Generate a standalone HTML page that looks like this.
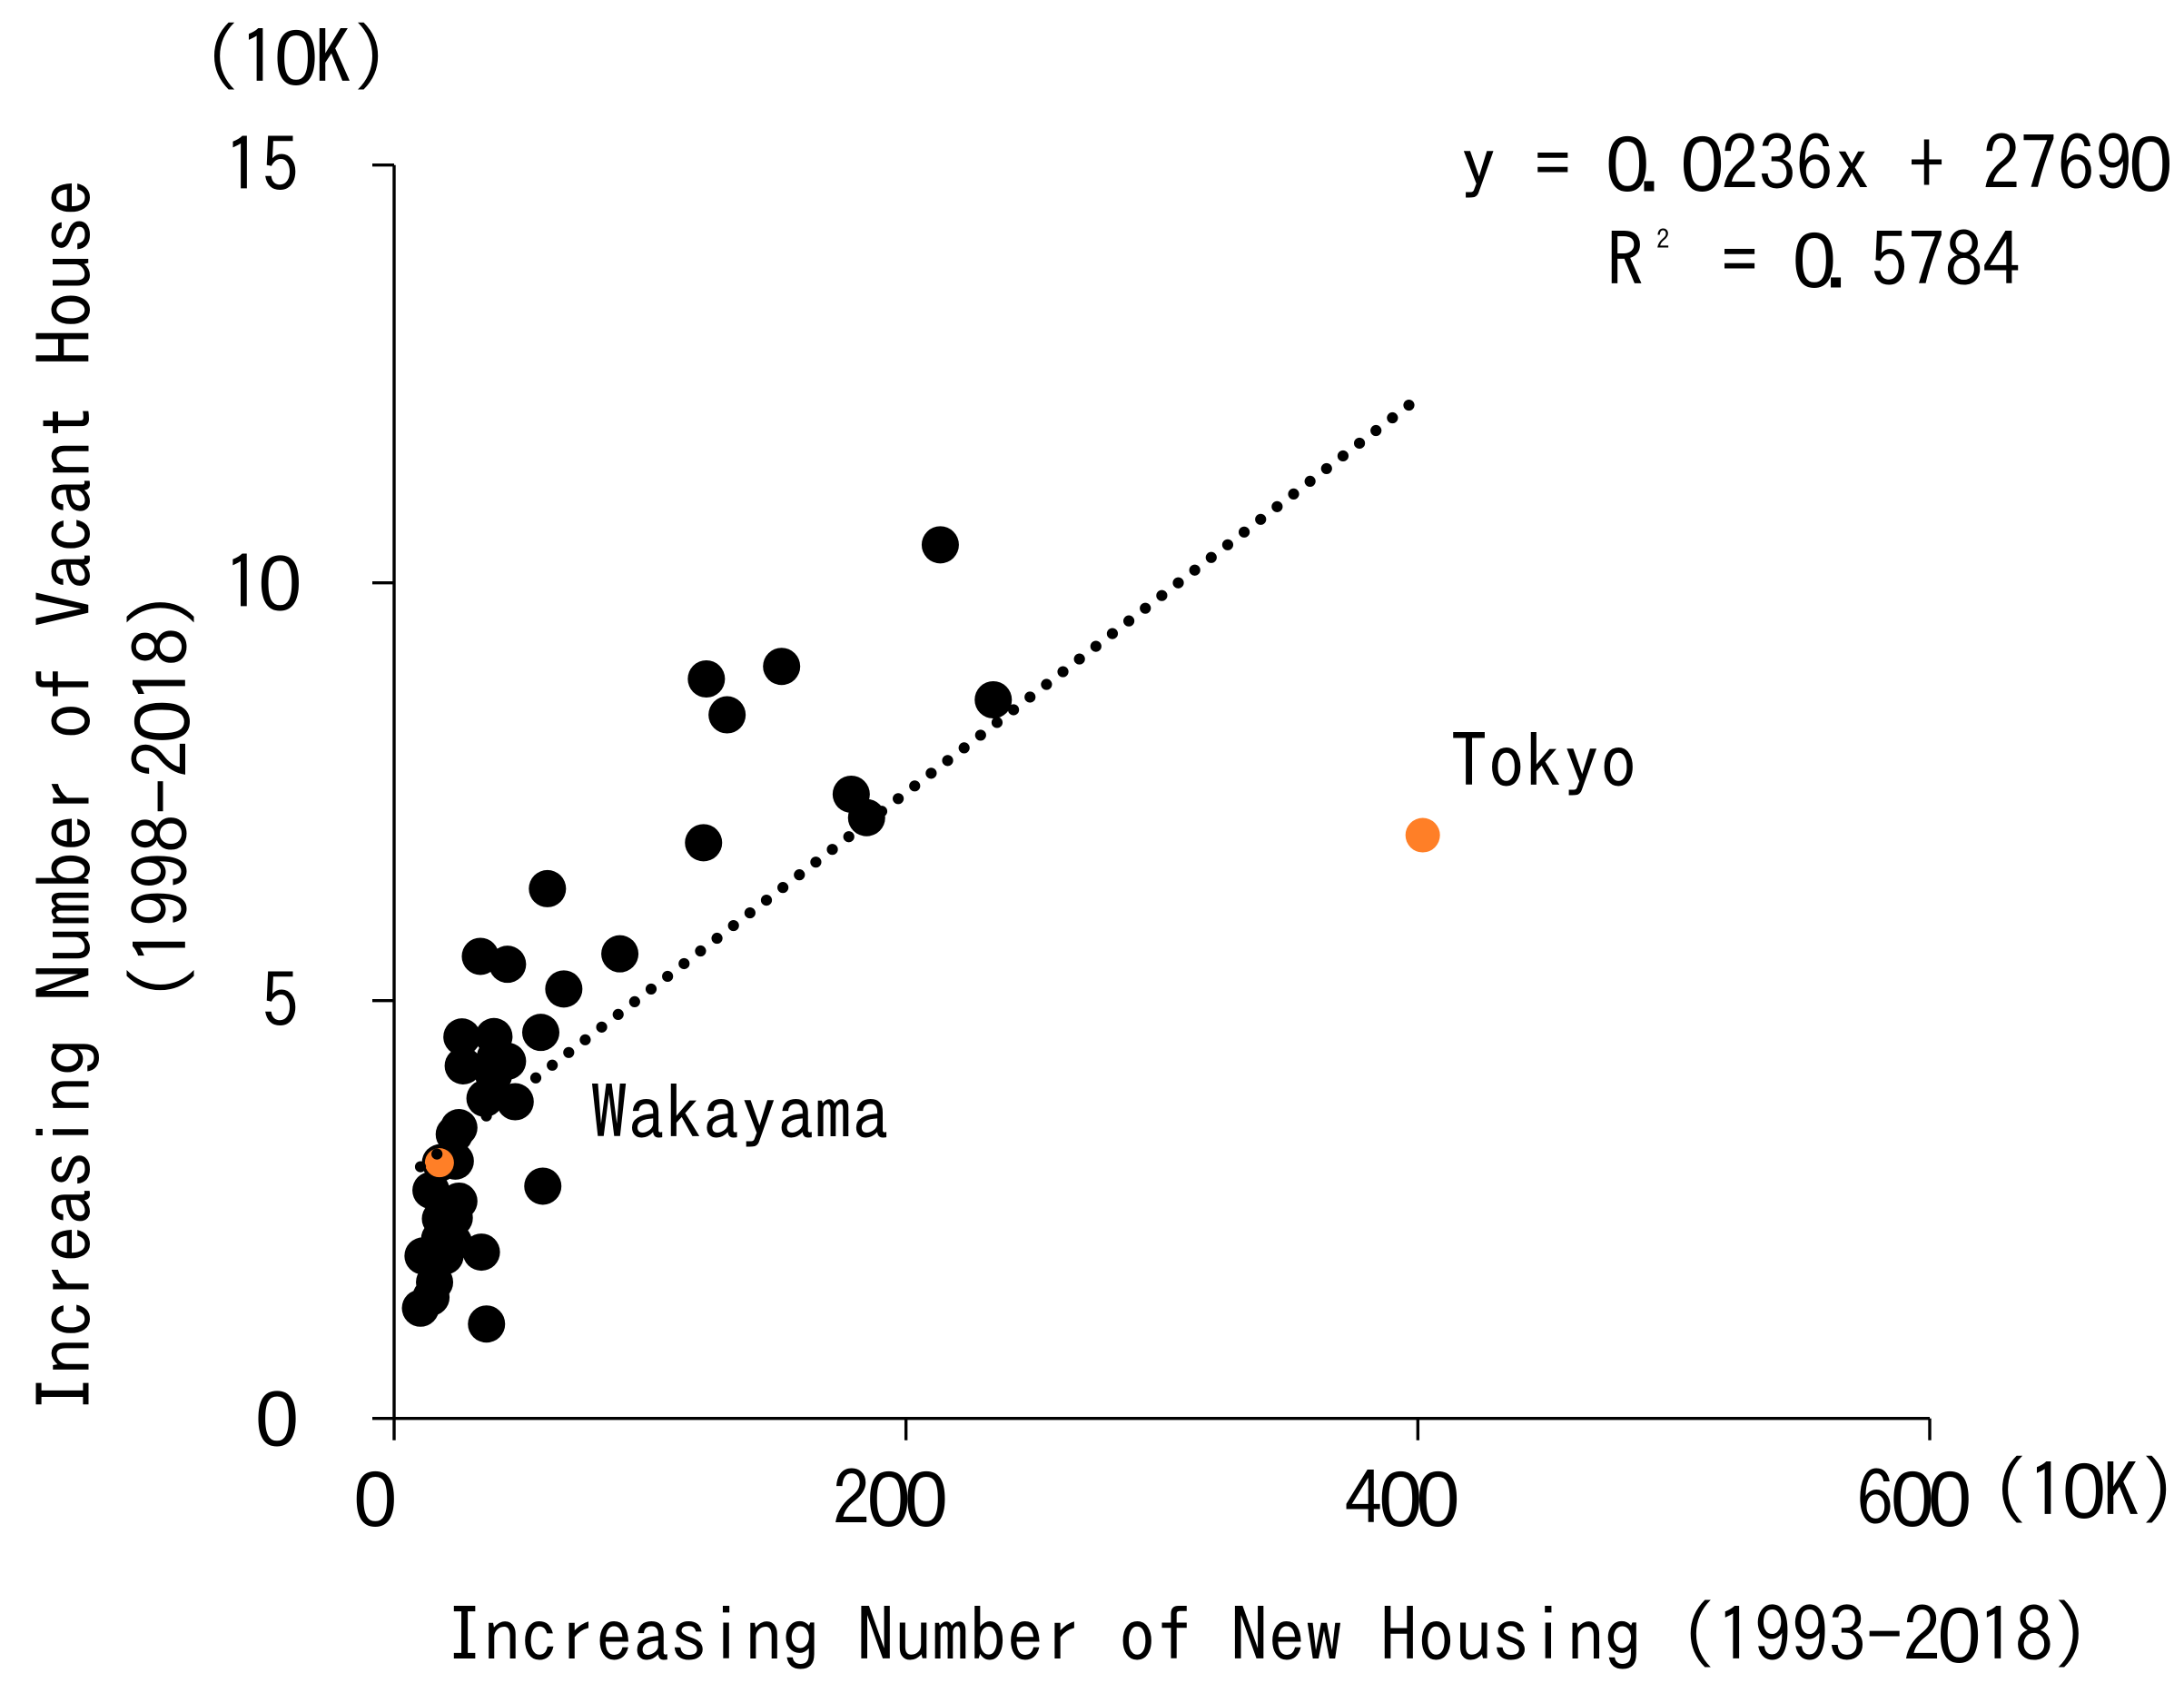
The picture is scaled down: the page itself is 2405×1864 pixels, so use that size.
<!DOCTYPE html>
<html>
<head>
<meta charset="utf-8">
<style>
html,body{margin:0;padding:0;background:#fff;width:2405px;height:1864px;overflow:hidden}
svg{display:block}
text{font-family:"IPAGothic","Liberation Sans",sans-serif;font-size:82.3px;fill:#000}
.z{font-family:"Liberation Sans",sans-serif;font-size:86px;letter-spacing:-3.3px}
</style>
</head>
<body>
<svg id="chart" xmlns="http://www.w3.org/2000/svg" width="2405" height="1864" viewBox="0 0 2405 1864">
  <rect x="0" y="0" width="2405" height="1864" fill="#fff"/>
  <g id="marks"></g>
  <g id="highlights"></g>
  <line id="trend" stroke="#000" stroke-width="12.2" stroke-linecap="round" stroke-dasharray="0 22.9"/>
  <g id="axes"></g>
  <text x="182" y="93">（1<tspan class="z" dx="-3.3">0</tspan>K）</text>
  <text x="2151" y="1671">（1<tspan class="z" dx="-3.3">0</tspan>K）</text>
  <text x="491" y="1830">Increasing Number of New Housing (1993-2<tspan class="z" dx="-3.3">0</tspan>18)</text>
  <text transform="translate(101.5,1555) rotate(-90)">Increasing Number of Vacant House</text>
  <text transform="translate(208,1103) rotate(-90)">(1998-2<tspan class="z" dx="-3.3">0</tspan>18)</text>
  <text x="1607" y="210">y = <tspan class="z" dx="-3.3">0</tspan><tspan dx="-10">.</tspan><tspan class="z" dx="6.7">0</tspan>236x + 2769<tspan class="z" dx="-3.3">0</tspan></text>
  <g>
    <text x="1769" y="316">R</text>
    <text x="1824" y="274" style="font-size:29px">2</text>
    <text x="1895" y="316">= <tspan class="z" dx="-3.3">0</tspan><tspan dx="-10">.</tspan><tspan dx="10">5784</tspan></text>
  </g>
  <text x="1597" y="868">Tokyo</text>
  <text x="650" y="1255">Wakayama</text>
</svg>
<script>
const pointX = [213.4,234.1,151.4,122,130.1,178.6,184.6,120.9,59.9,33.7,44.3,88.2,66.3,57.3,26.5,39.0,27.0,44.3,39.5,38.9,35.5,47.3,25.3,23.5,58.1,23.9,18.1,14.4,25.3,20.5,18.1,23.5,11.3,19.9,34.1,15.8,14.4,10.3,36.1,23.2,17.8];
const pointY = [10.455,8.60,9.0,8.85,8.42,7.47,7.19,6.89,6.34,5.53,5.435,5.56,5.14,4.62,4.566,4.57,4.22,4.275,4.32,4.11,3.83,3.79,3.48,3.40,2.78,3.08,3.06,2.73,2.60,2.49,2.39,2.40,1.945,1.945,1.99,1.63,1.45,1.32,1.13,2.11,2.15];
const highlightNames = ["tokyo","wakayama"];
const highlightX = [401.9,17.7];
const highlightY = [6.98,3.06];
const xTicks = [0,200,400,600];
const yTicks = [0,5,10,15];
const trendSlope = 0.0236;
const trendIntercept = 2.769;
const trendRange = [10.3,397];

const NS = 'http://www.w3.org/2000/svg';
const originX = 434, originY = 1561.7, xPx = 1691 / 600, yPx = 1380 / 15;
const sx = v => originX + v * xPx;
const sy = v => originY - v * yPx;
function make(tag, attrs, parent) {
  const el = document.createElementNS(NS, tag);
  for (const k in attrs) el.setAttribute(k, attrs[k]);
  parent.appendChild(el);
  return el;
}
function fillLabel(el, value) {
  String(value).split('').forEach(ch => {
    const s = make('tspan', {}, el);
    if (ch === '0') {
      s.setAttribute('class', 'z');
      s.setAttribute('dx', '-3.3');
    }
    s.textContent = ch;
  });
}
const marks = document.getElementById('marks');
pointX.forEach((x, i) => {
  const c = make('circle', {cx: sx(x), cy: sy(pointY[i]), r: 20.5, fill: '#000'}, marks);
  
  
});
const hl = document.getElementById('highlights');
highlightX.forEach((x, i) => {
  const c = make('circle', {cx: sx(x), cy: sy(highlightY[i]), r: i === 0 ? 19 : 16, fill: '#ff7f27'}, hl);
  
  
});
const trend = document.getElementById('trend');
trend.setAttribute('x1', sx(trendRange[0]));
trend.setAttribute('y1', sy(trendSlope * trendRange[0] + trendIntercept));
trend.setAttribute('x2', sx(trendRange[1]));
trend.setAttribute('y2', sy(trendSlope * trendRange[1] + trendIntercept));

const axes = document.getElementById('axes');
const axisStyle = {stroke: '#000', 'stroke-width': 3.4};
const xAxis = make('line', Object.assign({x1: sx(0), x2: sx(600), y1: sy(0), y2: sy(0)}, axisStyle), axes);


const yAxis = make('line', Object.assign({x1: sx(0), x2: sx(0), y1: sy(0), y2: sy(15)}, axisStyle), axes);


xTicks.forEach(v => {
  const t = make('line', Object.assign({x1: sx(v), x2: sx(v), y1: sy(0), y2: sy(0) + 24}, axisStyle), axes);
  
  
  const l = make('text', {x: sx(v) - 19, y: 1680, 'text-anchor': 'middle'}, axes);
  fillLabel(l, v);
  
  
});
yTicks.forEach(v => {
  const t = make('line', Object.assign({x1: sx(0) - 24, x2: sx(0), y1: sy(v), y2: sy(v)}, axisStyle), axes);
  
  
  const l = make('text', {x: 329, y: sy(v) + 30, 'text-anchor': 'end'}, axes);
  fillLabel(l, v);
  
  
});
</script>
</body>
</html>
